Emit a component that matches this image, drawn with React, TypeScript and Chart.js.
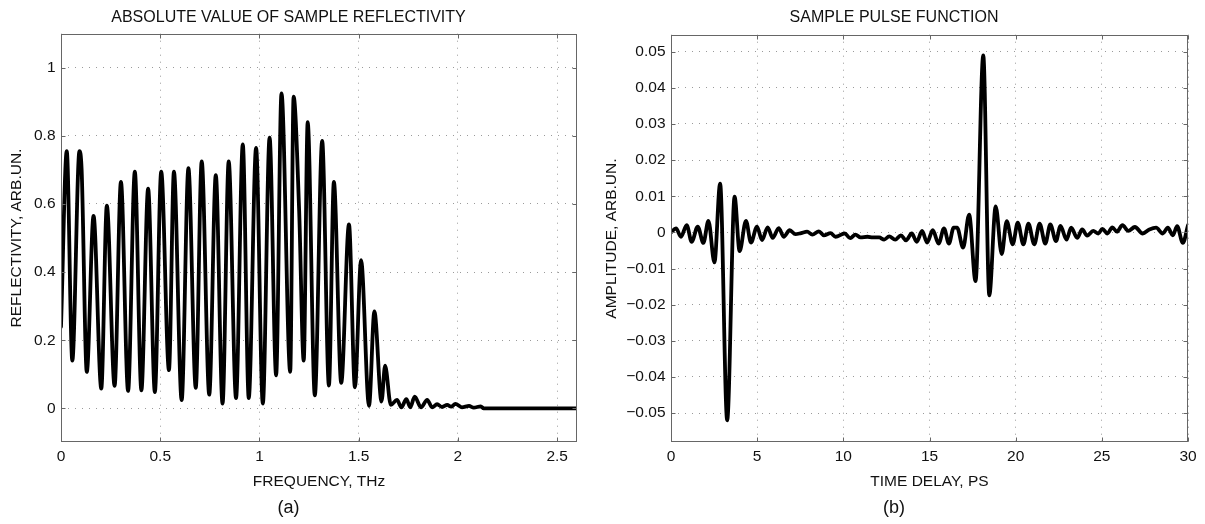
import { useEffect, useRef } from "react";
import { Chart, registerables } from "chart.js";

Chart.register(...registerables);

// ---------- Panel (a): reflectivity vs frequency ----------
const freqTHz = [
  0, 0.029, 0.057, 0.093, 0.104, 0.13, 0.164, 0.203, 0.231, 0.27, 0.302, 0.338,
  0.372, 0.405, 0.439, 0.473, 0.505, 0.544, 0.569, 0.608, 0.642, 0.679, 0.709,
  0.747, 0.78, 0.814, 0.845, 0.882, 0.916, 0.946, 0.983, 1.017, 1.051, 1.084,
  1.111, 1.155, 1.172, 1.2, 1.223, 1.243, 1.279, 1.316, 1.35, 1.375, 1.412,
  1.451, 1.481, 1.512, 1.552, 1.579, 1.615, 1.633, 1.662, 1.693, 1.715, 1.74,
  1.76, 1.782, 1.814, 1.845, 1.87, 1.895, 1.92, 1.946, 1.966, 1.987, 2.02,
  2.056, 2.08, 2.115, 2.13, 2.6,
];
const reflectivity = [
  0.24, 0.755, 0.14, 0.755, 0.7, 0.107, 0.565, 0.058, 0.595, 0.066, 0.665, 0.051,
  0.695, 0.053, 0.645, 0.048, 0.695, 0.112, 0.695, 0.024, 0.705, 0.06, 0.725,
  0.04, 0.685, 0.014, 0.725, 0.03, 0.775, 0.03, 0.765, 0.014, 0.795, 0.097,
  0.925, 0.107, 0.915, 0.58, 0.14, 0.84, 0.038, 0.785, 0.067, 0.665, 0.075,
  0.54, 0.062, 0.435, 0.007, 0.285, 0.02, 0.125, 0.01, 0.025, 0.003, 0.027,
  0.003, 0.034, 0.003, 0.025, 0.003, 0.012, 0.004, 0.01, 0.005, 0.013, 0.003,
  0.007, 0.002, 0.006, 0, 0,
];
const freqTicks = [0, 0.5, 1, 1.5, 2, 2.5];
const freqTickLabels = ["0", "0.5", "1", "1.5", "2", "2.5"];
const reflTicks = [0, 0.2, 0.4, 0.6, 0.8, 1];
const reflTickLabels = ["0", "0.2", "0.4", "0.6", "0.8", "1"];

// ---------- Panel (b): pulse amplitude vs time delay ----------
const timePs = [
  0, 0.29, 0.58, 0.91, 1.2, 1.55, 1.88, 2.17, 2.52, 2.85, 3.26, 3.69, 3.98,
  4.35, 4.64, 4.99, 5.28, 5.61, 5.9, 6.25, 6.54, 6.89, 7.22, 7.55, 7.9, 8.2,
  8.58, 8.87, 9.26, 9.55, 10.08, 10.4, 10.7, 11.0, 11.4, 11.7, 12.08, 12.37,
  12.66, 13.01, 13.34, 13.64, 13.97, 14.26, 14.57, 14.86, 15.19, 15.53, 15.84,
  16.13, 16.4, 16.6, 16.95, 17.3, 17.67, 18.12, 18.47, 18.84, 19.19, 19.48,
  19.83, 20.12, 20.45, 20.74, 21.08, 21.39, 21.72, 22.01, 22.34, 22.6, 22.95,
  23.22, 23.57, 23.86, 24.15, 24.5, 24.8, 25.03, 25.32, 25.61, 25.87, 26.2,
  26.53, 26.92, 27.37, 27.76, 28.15, 28.53, 28.83, 29.12, 29.37, 29.7, 30,
];
const amplitude = [
  0, 0.0011, -0.0012, 0.002, -0.0026, 0.0016, -0.0029, 0.0032, -0.0083, 0.0135,
  -0.052, 0.0099, -0.0052, 0.0032, -0.0028, 0.0016, -0.0021, 0.0014, -0.0015,
  0.0012, -0.0012, 0.0006, -0.0005, -0.0002, 0.0002, -0.0006, 0.0003, -0.0008,
  -0.0002, -0.0012, -0.0003, -0.0016, -0.0006, -0.0014, -0.0012, -0.0014,
  -0.0014, -0.002, -0.0011, -0.002, -0.0008, -0.0022, -0.0003, -0.0026, 0.0004,
  -0.0028, 0.0006, -0.0031, 0.0011, -0.0031, 0.0013, 0.0013, -0.0042, 0.0049,
  -0.0135, 0.049, -0.0174, 0.0072, -0.006, 0.0031, -0.0033, 0.0027, -0.0033,
  0.0024, -0.0033, 0.0024, -0.0031, 0.0022, -0.0024, 0.0018, -0.002, 0.0013,
  -0.0015, 0.0008, -0.0009, 0.0004, -0.0003, 0.001, -0.0003, 0.0014, 0.0002,
  0.002, 0.0004, 0.0015, -0.0003, 0.0008, 0.0013, -0.0003, 0.0013, -0.0008,
  0.0017, -0.0029, 0.002,
];
const timeTicks = [0, 5, 10, 15, 20, 25, 30];
const timeTickLabels = ["0", "5", "10", "15", "20", "25", "30"];
const ampTicks = [-0.05, -0.04, -0.03, -0.02, -0.01, 0, 0.01, 0.02, 0.03, 0.04, 0.05];
const ampTickLabels = [
  "\u22120.05", "\u22120.04", "\u22120.03", "\u22120.02", "\u22120.01", "0",
  "0.01", "0.02", "0.03", "0.04", "0.05",
];

const FONT = "'Liberation Sans', Arial, Helvetica, sans-serif";
const TEXT = "#111";

const framePlugin = {
  id: "matlabFrame",
  afterDraw(chart: any) {
    const { ctx, chartArea: a } = chart;
    const xs = chart.scales.x;
    const ys = chart.scales.y;
    const L = Math.round(a.left) + 0.5;
    const R = Math.round(a.right) - 0.5;
    const T = Math.round(a.top) + 0.5;
    const B = Math.round(a.bottom) - 0.5;
    ctx.save();
    ctx.strokeStyle = "#666";
    ctx.lineWidth = 1;
    ctx.setLineDash([]);
    ctx.strokeRect(L, T, R - L, B - T);
    const tl = 4;
    ctx.beginPath();
    xs.ticks.forEach((t: any) => {
      const px = Math.round(xs.getPixelForValue(t.value)) + 0.5;
      ctx.moveTo(px, B);
      ctx.lineTo(px, B - tl);
      ctx.moveTo(px, T);
      ctx.lineTo(px, T + tl);
    });
    ys.ticks.forEach((t: any) => {
      const py = Math.round(ys.getPixelForValue(t.value)) + 0.5;
      ctx.moveTo(L, py);
      ctx.lineTo(L + tl, py);
      ctx.moveTo(R, py);
      ctx.lineTo(R - tl, py);
    });
    ctx.stroke();
    ctx.restore();
  },
};

function makeConfig(p: {
  xs: number[]; ys: number[];
  xMin: number; xMax: number; yMin: number; yMax: number;
  xTicks: number[]; xLabels: string[]; yTicks: number[]; yLabels: string[];
  title: string; xTitle: string; yTitle: string; sub: string;
  yWidth: number; padRight: number; titlePadBottom: number; yTitlePad: number;
  xHeight: number;
}): any {
  return {
    type: "line",
    data: {
      datasets: [
        {
          data: p.xs.map((x, i) => ({ x, y: p.ys[i] })),
          borderColor: "#000",
          borderWidth: 3.8,
          pointRadius: 0,
          fill: false,
          cubicInterpolationMode: "monotone",
          borderJoinStyle: "round",
          borderCapStyle: "round",
        },
      ],
    },
    options: {
      animation: false,
      responsive: false,
      maintainAspectRatio: false,
      events: [],
      layout: { padding: { left: 0, right: p.padRight, top: 0, bottom: 0 } },
      plugins: {
        legend: { display: false },
        tooltip: { enabled: false },
        title: {
          display: true,
          text: p.title,
          color: TEXT,
          font: { family: FONT, size: 16, weight: "normal" },
          padding: { top: 7.6, bottom: p.titlePadBottom },
        },
        subtitle: {
          display: true,
          position: "bottom",
          text: p.sub,
          color: TEXT,
          font: { family: FONT, size: 18, weight: "normal" },
          padding: { top: 0, bottom: 5 },
        },
      },
      scales: {
        x: {
          type: "linear",
          min: p.xMin,
          max: p.xMax,
          afterBuildTicks: (s: any) => {
            s.ticks = p.xTicks.map((v) => ({ value: v }));
          },
          afterFit: (s: any) => {
            s.height = p.xHeight;
          },
          ticks: {
            autoSkip: false,
            maxRotation: 0,
            padding: 5,
            color: TEXT,
            font: { family: FONT, size: 15.5 },
            callback: (_v: any, i: number) => p.xLabels[i],
          },
          grid: { color: "#9a9a9a", lineWidth: 1, drawTicks: false },
          border: { display: false, dash: [1, 6] },
          title: {
            display: true,
            text: p.xTitle,
            color: TEXT,
            font: { family: FONT, size: 15.5 },
            padding: { top: 0, bottom: 6.8 },
          },
        },
        y: {
          type: "linear",
          min: p.yMin,
          max: p.yMax,
          afterBuildTicks: (s: any) => {
            s.ticks = p.yTicks.map((v) => ({ value: v }));
          },
          afterFit: (s: any) => {
            s.width = p.yWidth;
          },
          ticks: {
            autoSkip: false,
            padding: 5.5,
            color: TEXT,
            font: { family: FONT, size: 15.5 },
            callback: (_v: any, i: number) => p.yLabels[i],
          },
          grid: { color: "#9a9a9a", lineWidth: 1, drawTicks: false },
          border: { display: false, dash: [1, 6] },
          title: {
            display: true,
            text: p.yTitle,
            color: TEXT,
            font: { family: FONT, size: 15.5 },
            padding: { top: p.yTitlePad, bottom: 0 },
          },
        },
      },
    },
    plugins: [framePlugin],
  };
}

export default function App() {
  const leftRef = useRef<HTMLCanvasElement | null>(null);
  const rightRef = useRef<HTMLCanvasElement | null>(null);

  useEffect(() => {
    const left = new Chart(
      leftRef.current as HTMLCanvasElement,
      makeConfig({
        xs: freqTHz, ys: reflectivity,
        xMin: 0, xMax: 2.6, yMin: -0.1, yMax: 1.1,
        xTicks: freqTicks, xLabels: freqTickLabels,
        yTicks: reflTicks, yLabels: reflTickLabels,
        title: "ABSOLUTE VALUE OF SAMPLE REFLECTIVITY",
        xTitle: "FREQUENCY, THz",
        yTitle: "REFLECTIVITY, ARB.UN.",
        sub: "(a)",
        yWidth: 61, padRight: 23, titlePadBottom: 6.9, yTitlePad: 7.4,
        xHeight: 55,
      })
    );
    const right = new Chart(
      rightRef.current as HTMLCanvasElement,
      makeConfig({
        xs: timePs, ys: amplitude,
        xMin: 0, xMax: 30, yMin: -0.0581, yMax: 0.0547,
        xTicks: timeTicks, xLabels: timeTickLabels,
        yTicks: ampTicks, yLabels: ampTickLabels,
        title: "SAMPLE PULSE FUNCTION",
        xTitle: "TIME DELAY, PS",
        yTitle: "AMPLITUDE, ARB.UN.",
        sub: "(b)",
        yWidth: 71, padRight: 17, titlePadBottom: 7.9, yTitlePad: 2.9,
        xHeight: 55,
      })
    );
    return () => {
      left.destroy();
      right.destroy();
    };
  }, []);

  return (
    <div
      style={{
        position: "absolute",
        left: 0,
        top: 0,
        width: 1205,
        height: 524,
        background: "#fff",
        overflow: "hidden",
      }}
    >
      <canvas
        ref={leftRef}
        width={600}
        height={524}
        style={{ position: "absolute", left: 0, top: 0, width: 600, height: 524 }}
      />
      <canvas
        ref={rightRef}
        width={605}
        height={524}
        style={{ position: "absolute", left: 600, top: 0, width: 605, height: 524 }}
      />
    </div>
  );
}
